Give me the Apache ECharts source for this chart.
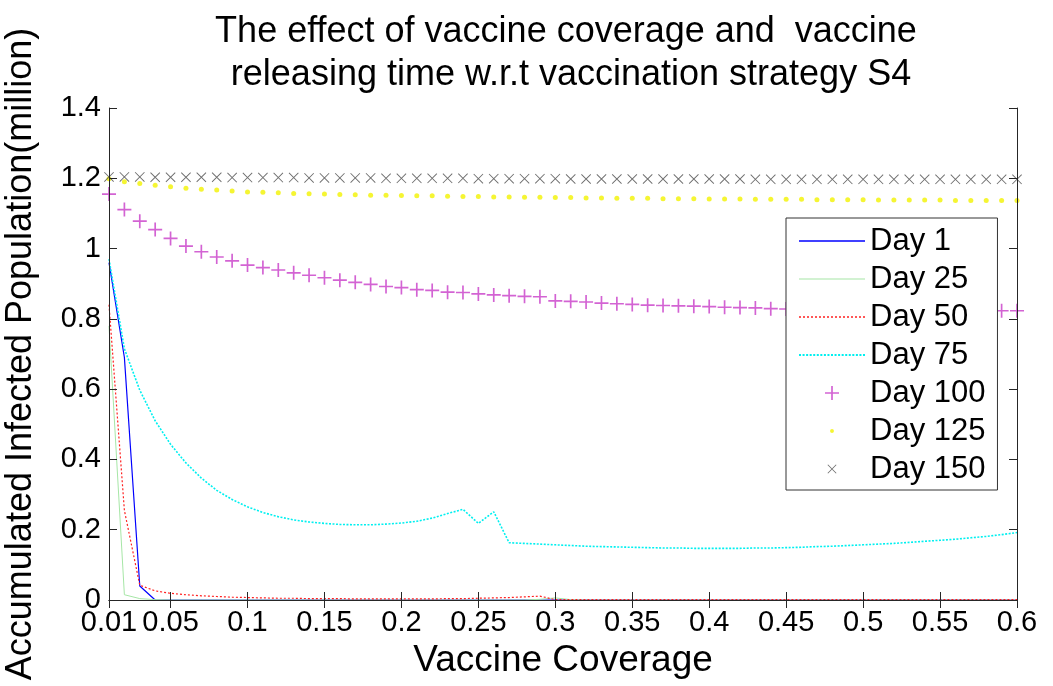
<!DOCTYPE html>
<html><head><meta charset="utf-8">
<script src="https://cdn.jsdelivr.net/npm/echarts@6/dist/echarts.min.js"></script>
<style>html,body{margin:0;padding:0;background:#fff}#c{width:1053px;height:686px}</style>
</head><body><div id="c"></div>
<script>
const coverage = [
  0.01,0.02,0.03,0.04,0.05,0.06,0.07,0.08,0.09,0.10,
  0.11,0.12,0.13,0.14,0.15,0.16,0.17,0.18,0.19,0.20,
  0.21,0.22,0.23,0.24,0.25,0.26,0.27,0.28,0.29,0.30,
  0.31,0.32,0.33,0.34,0.35,0.36,0.37,0.38,0.39,0.40,
  0.41,0.42,0.43,0.44,0.45,0.46,0.47,0.48,0.49,0.50,
  0.51,0.52,0.53,0.54,0.55,0.56,0.57,0.58,0.59,0.60];
const xTickValues = [0.01,0.05,0.1,0.15,0.2,0.25,0.3,0.35,0.4,0.45,0.5,0.55,0.6];
const yTickValues = [0,0.2,0.4,0.6,0.8,1,1.2,1.4];
const seriesNames = ['Day 1','Day 25','Day 50','Day 75','Day 100','Day 125','Day 150'];

const day1 = [
  0.96,0.69,0.04,0,0,0,0,0,0,0,
  0,0,0,0,0,0,0,0,0,0,
  0,0,0,0,0,0,0,0,0,0,
  0,0,0,0,0,0,0,0,0,0,
  0,0,0,0,0,0,0,0,0,0,
  0,0,0,0,0,0,0,0,0,0];
const day25 = [
  0.78,0.015,0.004,0.001,0,0,0,0,0,0,
  0,0,0,0,0,0,0,0,0,0,
  0,0,0,0,0,0,0,0,0.002,0.006,
  0.001,0,0,0,0,0,0,0,0,0,
  0,0,0,0,0,0,0,0,0,0,
  0,0,0,0,0,0,0,0,0,0];
const day50 = [
  0.84,0.255,0.042,0.026,0.019,0.015,0.012,0.010,0.008,0.007,
  0.006,0.005,0.005,0.004,0.004,0.004,0.003,0.003,0.003,0.003,
  0.003,0.003,0.004,0.004,0.005,0.006,0.007,0.009,0.011,0.001,
  0.001,0.001,0.001,0.001,0.001,0.001,0.001,0.001,0.001,0.001,
  0.001,0.001,0.001,0.001,0.001,0.001,0.001,0.001,0.001,0.001,
  0.001,0.001,0.001,0.001,0.001,0.001,0.001,0.001,0.001,0.001];
const day75 = [
  0.97,0.715,0.597,0.510,0.443,0.390,0.347,0.312,0.286,0.265,
  0.249,0.237,0.228,0.222,0.218,0.215,0.214,0.214,0.216,0.219,
  0.224,0.233,0.246,0.258,0.218,0.251,0.163,0.161,0.159,0.157,
  0.155,0.153,0.152,0.151,0.150,0.149,0.148,0.148,0.147,0.147,
  0.147,0.147,0.148,0.148,0.149,0.150,0.152,0.153,0.155,0.157,
  0.159,0.161,0.164,0.167,0.170,0.173,0.177,0.181,0.186,0.192];
const day100 = [
  1.155,1.111,1.078,1.054,1.029,1.007,0.991,0.976,0.965,0.953,
  0.946,0.939,0.931,0.924,0.917,0.910,0.904,0.898,0.892,0.889,
  0.883,0.881,0.876,0.875,0.871,0.868,0.866,0.864,0.863,0.851,
  0.850,0.848,0.845,0.843,0.841,0.839,0.838,0.837,0.836,0.835,
  0.833,0.832,0.831,0.829,0.828,0.828,0.827,0.827,0.826,0.826,
  0.825,0.825,0.825,0.824,0.824,0.824,0.823,0.823,0.823,0.823];
const day125 = [
  1.199,1.190,1.185,1.180,1.176,1.172,1.169,1.167,1.164,1.161,
  1.160,1.159,1.157,1.156,1.155,1.154,1.153,1.152,1.152,1.151,
  1.150,1.150,1.149,1.148,1.148,1.147,1.147,1.146,1.146,1.145,
  1.145,1.144,1.144,1.143,1.143,1.143,1.142,1.142,1.142,1.141,
  1.141,1.141,1.140,1.140,1.140,1.140,1.139,1.139,1.139,1.139,
  1.138,1.138,1.138,1.138,1.138,1.137,1.137,1.137,1.137,1.137];
const day150 = [
  1.204,1.204,1.204,1.203,1.203,1.203,1.203,1.203,1.202,1.202,
  1.202,1.202,1.202,1.201,1.201,1.201,1.201,1.201,1.200,1.200,
  1.200,1.200,1.200,1.200,1.199,1.199,1.199,1.199,1.199,1.199,
  1.198,1.198,1.198,1.198,1.198,1.198,1.198,1.198,1.198,1.198,
  1.198,1.198,1.197,1.197,1.197,1.197,1.197,1.197,1.197,1.197,
  1.197,1.197,1.197,1.197,1.197,1.197,1.197,1.197,1.197,1.197];

const FONT = "'Liberation Sans', Arial, Helvetica, sans-serif";
const AX = '#262626';
const pairs = ys => coverage.map((x, i) => [x, ys[i]]);
const fmt = v => String(+(+v).toFixed(2));
const PLUS = 'path://M4.4,0H5.6V10H4.4Z M0,4.4H10V5.6H0Z';
const CROSS = 'path://M0,0.65L0.65,0L10,9.35L9.35,10Z M9.35,0L10,0.65L0.65,10L0,9.35Z';
const DOT_ICON = 'path://M0,0L0,0M14,14L14,14M7,5L8.4,5.6L9,7L8.4,8.4L7,9L5.6,8.4L5,7L5.6,5.6Z';
const CROSS_ICON = 'path://M0,0L0,0M14,14L14,14M2.5,3.1L3.1,2.5L11.5,10.9L10.9,11.5Z M10.9,2.5L11.5,3.1L3.1,11.5L2.5,10.9Z';
// legend line samples (icon shapes only)
function linePath(total, dash, gap, thick) {
  if (!gap) return 'path://M0,0H' + total + 'V' + thick + 'H0Z';
  let s = 'path://';
  for (let x = 0; x < total; x += dash + gap) {
    const w = Math.min(dash, total - x);
    s += 'M' + x + ',0H' + (x + w) + 'V' + thick + 'H' + x + 'Z';
  }
  return s;
}

const chart = echarts.init(document.getElementById('c'), null, {renderer: 'canvas'});
const lineSeries = (name, data, color, width, type) => ({
  name, type: 'line', data: pairs(data), symbol: 'none', showSymbol: false,
  lineStyle: {color, width, type}, itemStyle: {color}, animation: false, z: 2
});
const option = {
  backgroundColor: '#fff',
  animation: false,
  textStyle: {fontFamily: FONT},
  title: {
    text: 'The effect of vaccine coverage and  vaccine\n releasing time w.r.t vaccination strategy S4',
    left: 561, top: 6, textAlign: 'center',
    textStyle: {fontFamily: FONT, fontSize: 36, fontWeight: 'normal', color: '#000', lineHeight: 43}
  },
  grid: {left: 109, right: 36, top: 108, bottom: 86, containLabel: false, outerBoundsMode: 'none'},
  legend: {
    orient: 'vertical', left: 786, top: 218,
    padding: [6, 12, 4, 13],
    itemWidth: 66, itemHeight: 14, itemGap: 4,
    borderColor: '#333', borderWidth: 1, backgroundColor: '#fff',
    textStyle: {fontFamily: FONT, fontSize: 31, color: '#000', lineHeight: 34},
    z: 10,
    data: [
      {name: seriesNames[0], icon: linePath(66, 0, 0, 1.3)},
      {name: seriesNames[1], icon: linePath(66, 0, 0, 1)},
      {name: seriesNames[2], icon: linePath(66, 2, 2, 1.3)},
      {name: seriesNames[3], icon: linePath(66, 2, 1.5, 1.8)},
      {name: seriesNames[4]},
      {name: seriesNames[5], icon: DOT_ICON},
      {name: seriesNames[6], icon: CROSS_ICON}
    ]
  },
  xAxis: [{
    type: 'value', min: 0.01, max: 0.6, position: 'bottom', z: 3,
    axisLine: {show: true, lineStyle: {color: AX, width: 1}},
    axisTick: {show: true, inside: true, length: 8, customValues: xTickValues, lineStyle: {color: AX}},
    axisLabel: {show: true, customValues: xTickValues, formatter: fmt, fontSize: 29, color: '#000', margin: 8, fontFamily: FONT},
    splitLine: {show: false},
    name: 'Vaccine Coverage', nameLocation: 'middle', nameGap: 42,
    nameTextStyle: {fontSize: 37, color: '#000', fontFamily: FONT}
  }, {
    type: 'value', min: 0.01, max: 0.6, position: 'top', z: 3,
    axisLine: {show: true, lineStyle: {color: AX, width: 1}},
    axisTick: {show: true, inside: true, length: 8, customValues: xTickValues, lineStyle: {color: AX}},
    axisLabel: {show: false}, splitLine: {show: false}
  }],
  yAxis: [{
    type: 'value', min: 0, max: 1.4, interval: 0.2, position: 'left', z: 3,
    axisLine: {show: true, lineStyle: {color: AX, width: 1}},
    axisTick: {show: true, inside: true, length: 8, customValues: yTickValues, lineStyle: {color: AX}},
    axisLabel: {show: true, customValues: yTickValues, formatter: fmt, fontSize: 29, color: '#000', margin: 8, fontFamily: FONT},
    splitLine: {show: false},
    name: 'Accumulated Infected Population(million)', nameLocation: 'middle', nameGap: 70,
    nameTextStyle: {fontSize: 36, color: '#000', fontFamily: FONT}
  }, {
    type: 'value', min: 0, max: 1.4, interval: 0.2, position: 'right', z: 3,
    axisLine: {show: true, lineStyle: {color: AX, width: 1}},
    axisTick: {show: true, inside: true, length: 8, customValues: yTickValues, lineStyle: {color: AX}},
    axisLabel: {show: false}, splitLine: {show: false}
  }],
  series: [
    lineSeries(seriesNames[0], day1, '#0000ff', 1.2, 'solid'),
    lineSeries(seriesNames[1], day25, '#a6e6a6', 1, 'solid'),
    lineSeries(seriesNames[2], day50, '#ff2020', 1.2, [2, 2]),
    lineSeries(seriesNames[3], day75, '#00f0f0', 1.6, [2, 1.5]),
    {name: seriesNames[4], type: 'scatter', data: pairs(day100), symbol: PLUS, symbolSize: 14,
     itemStyle: {color: '#c83cc8'}, clip: false, z: 2},
    {name: seriesNames[5], type: 'scatter', data: pairs(day125), symbol: 'circle', symbolSize: 5,
     itemStyle: {color: '#f2f200'}, clip: false, z: 2},
    {name: seriesNames[6], type: 'scatter', data: pairs(day150), symbol: CROSS, symbolSize: 10,
     itemStyle: {color: '#4a4a4a'}, clip: false, z: 2}
  ]
};
chart.setOption(option);
</script>
</body></html>
